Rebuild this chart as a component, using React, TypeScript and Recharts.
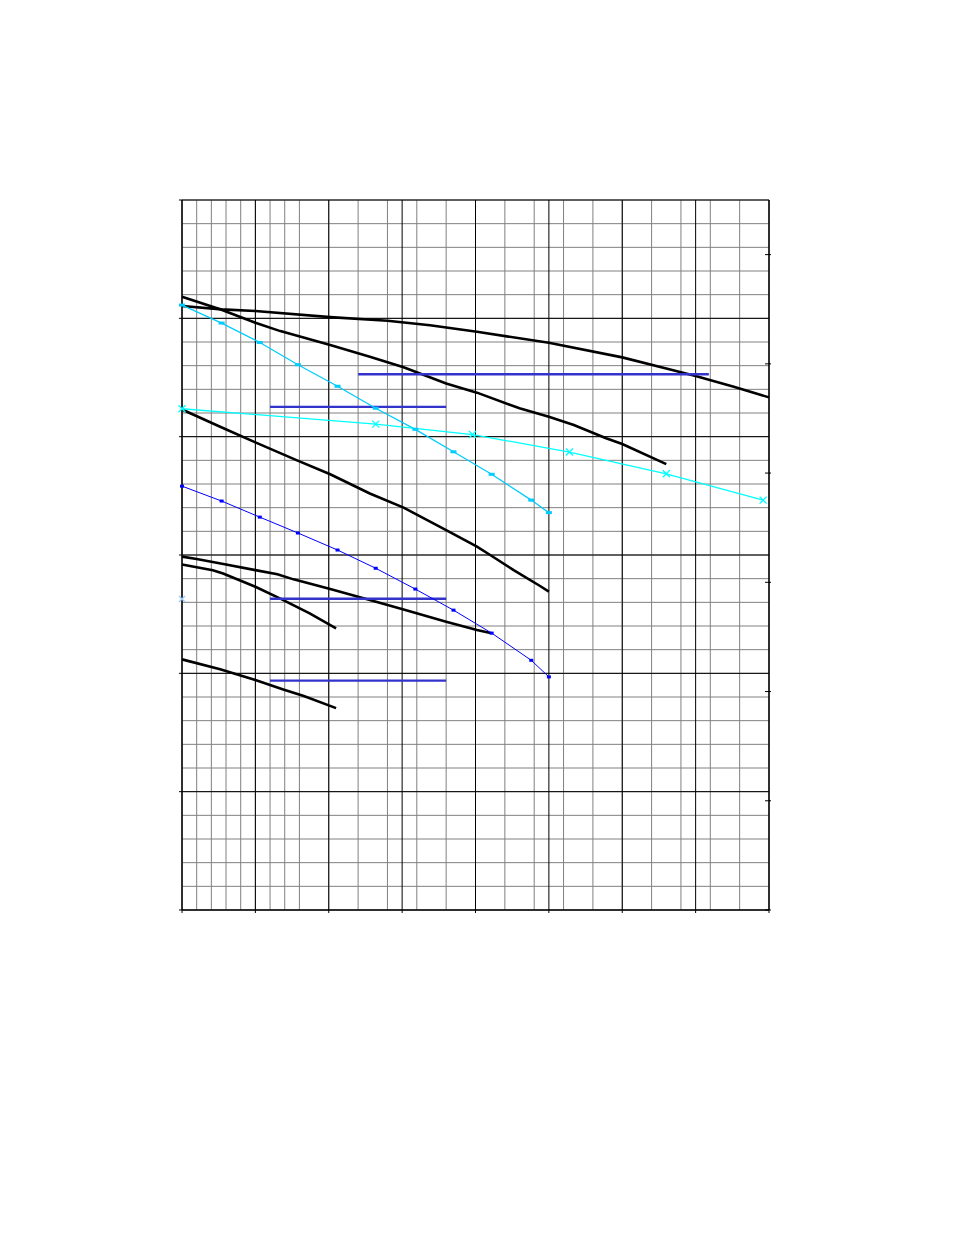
import React from 'react';
import {
  LineChart,
  Line,
  XAxis,
  YAxis,
  CartesianGrid
} from 'recharts';

// Grid ticks (minor every unit, major every 5)
const minorXTicks = Array.from({ length: 41 }, (_, i) => i);
const majorXTicks = [0, 5, 10, 15, 20, 25, 30, 35, 40];
const minorYTicks = Array.from({ length: 31 }, (_, i) => i);
const majorYTicks = [0, 5, 10, 15, 20, 25, 30];
const rightTicks = [0, 1, 2, 3, 4, 5, 6];

// Marker series share the same x positions
const markerX = [0, 2.7, 5.3, 7.9, 10.6, 13.2, 15.9, 18.5, 21.1, 23.8, 25.0];
const cyanSquareY = [25.56, 24.8, 23.98, 23.04, 22.13, 21.2, 20.31, 19.36, 18.41, 17.32, 16.79];
const blueY = [17.91, 17.28, 16.6, 15.93, 15.21, 14.44, 13.56, 12.67, 11.7, 10.55, 9.85];

const cyanCrossX = [0, 13.2, 19.8, 26.4, 33.0, 39.6];
const cyanCrossY = [21.18, 20.53, 20.09, 19.35, 18.43, 17.32];

const loneX = [0];
const loneY = [13.14];

// Black curves
const curveAX = [0, 2.7, 5.0, 10.1, 14.0, 16.9, 20.1, 25.0, 30.0, 33.0, 35.0, 37.6, 40.0];
const curveAY = [25.52, 25.38, 25.31, 25.05, 24.9, 24.71, 24.43, 23.97, 23.35, 22.88, 22.56, 22.11, 21.66];

const curveBX = [0, 2.6, 5.0, 6.7, 10.1, 12.8, 15.1, 18.0, 20.1, 23.0, 25.0, 26.7, 28.9, 30.0, 33.0];
const curveBY = [25.91, 25.38, 24.81, 24.46, 23.87, 23.38, 22.93, 22.25, 21.86, 21.2, 20.84, 20.49, 19.93, 19.69, 18.84];

const curveCX = [0, 2.6, 5.0, 7.8, 10.1, 12.8, 15.1, 18.0, 20.1, 21.0, 22.6, 24.4, 25.0];
const curveCY = [21.15, 20.42, 19.76, 19.01, 18.41, 17.6, 17.0, 16.05, 15.35, 15.0, 14.36, 13.69, 13.45];

const curveDX = [0, 1.0, 3.0, 5.0, 6.5, 7.6, 10.1, 12.8, 15.1, 18.0, 20.1, 21.1];
const curveDY = [14.93, 14.83, 14.6, 14.36, 14.19, 13.97, 13.56, 13.1, 12.7, 12.18, 11.83, 11.69];

const curveEX = [0, 2.1, 2.8, 5.0, 6.7, 8.7, 10.5];
const curveEY = [14.6, 14.36, 14.22, 13.66, 13.16, 12.53, 11.9];

const curveFX = [0, 2.6, 5.0, 6.0, 6.9, 8.3, 10.5];
const curveFY = [10.59, 10.17, 9.72, 9.51, 9.32, 9.04, 8.53];

// Horizontal reference segments: [xStart, xEnd, y]
const segStartX = [12.0, 6.0, 6.0, 6.0];
const segEndX = [35.9, 18.0, 18.0, 18.0];
const segY = [22.64, 21.26, 13.15, 9.69];

const zip = (xs: number[], ys: number[]) => xs.map((x, i) => ({ x, y: ys[i] }));

const SquareDot = (color: string, w: number, h: number) => (props: any) => {
  const { cx, cy, index } = props;
  if (cx == null || cy == null) return <g key={index} />;
  return <rect key={index} x={cx - w / 2} y={cy - h / 2} width={w} height={h} fill={color} />;
};

const CrossDot = (color: string, r: number) => (props: any) => {
  const { cx, cy, index } = props;
  if (cx == null || cy == null) return <g key={index} />;
  return (
    <g key={index} stroke={color} strokeWidth={1.3}>
      <line x1={cx - r} y1={cy - r} x2={cx + r} y2={cy + r} />
      <line x1={cx - r} y1={cy + r} x2={cx + r} y2={cy - r} />
    </g>
  );
};

const RightTick = (props: any) => {
  const { x, y } = props;
  return <line x1={x - 4} y1={y} x2={x + 2} y2={y} stroke="#000" strokeWidth={1} />;
};

export default function App() {
  const blackCurves = [
    zip(curveAX, curveAY),
    zip(curveBX, curveBY),
    zip(curveCX, curveCY),
    zip(curveDX, curveDY),
    zip(curveEX, curveEY),
    zip(curveFX, curveFY)
  ];
  const segments = segY.map((y, i) => [
    { x: segStartX[i], y },
    { x: segEndX[i], y }
  ]);

  return (
    <div style={{ width: 900, height: 1100 }}>
      <LineChart
        width={900}
        height={1100}
        margin={{ top: 192, right: 129, bottom: 188, left: 164 }}
      >
        <XAxis
          xAxisId="minor"
          type="number"
          dataKey="x"
          domain={[0, 40]}
          ticks={minorXTicks}
          allowDataOverflow
          hide
        />
        <YAxis
          yAxisId="minor"
          type="number"
          domain={[0, 30]}
          ticks={minorYTicks}
          allowDataOverflow
          hide
        />
        <XAxis
          xAxisId="major"
          type="number"
          dataKey="x"
          domain={[0, 40]}
          ticks={majorXTicks}
          height={10}
          tickSize={3}
          tickFormatter={() => ''}
          stroke="#000"
          tickLine={{ stroke: '#000' }}
        />
        <YAxis
          yAxisId="left"
          type="number"
          domain={[0, 30]}
          ticks={majorYTicks}
          width={10}
          tickSize={3}
          tickFormatter={() => ''}
          stroke="#000"
          tickLine={{ stroke: '#000' }}
        />
        <YAxis
          yAxisId="right"
          orientation="right"
          type="number"
          domain={[0, 6.5]}
          ticks={rightTicks}
          allowDataOverflow
          width={10}
          tickSize={0}
          tickMargin={0}
          tick={<RightTick />}
          stroke="#000"
          tickLine={false}
        />
        <CartesianGrid xAxisId="minor" yAxisId="minor" stroke="#808080" strokeWidth={1} />
        <CartesianGrid xAxisId="major" yAxisId="left" stroke="#000" strokeWidth={1} />

        {blackCurves.map((d, i) => (
          <Line
            key={`black-${i}`}
            data={d}
            xAxisId="major"
            yAxisId="left"
            dataKey="y"
            type="linear"
            stroke="#000"
            strokeWidth={2.6}
            dot={false}
            isAnimationActive={false}
          />
        ))}

        {segments.map((d, i) => (
          <Line
            key={`seg-${i}`}
            data={d}
            xAxisId="major"
            yAxisId="left"
            dataKey="y"
            type="linear"
            stroke="#3333cc"
            strokeWidth={2.4}
            dot={false}
            isAnimationActive={false}
          />
        ))}

        <Line
          data={zip(markerX, cyanSquareY)}
          xAxisId="major"
          yAxisId="left"
          dataKey="y"
          type="linear"
          stroke="#00ccff"
          strokeWidth={1.3}
          dot={SquareDot('#00ccff', 6, 3)}
          isAnimationActive={false}
        />
        <Line
          data={zip(cyanCrossX, cyanCrossY)}
          xAxisId="major"
          yAxisId="left"
          dataKey="y"
          type="linear"
          stroke="#00ffff"
          strokeWidth={1.3}
          dot={CrossDot('#00ffff', 3.5)}
          isAnimationActive={false}
        />
        <Line
          data={zip(markerX, blueY)}
          xAxisId="major"
          yAxisId="left"
          dataKey="y"
          type="linear"
          stroke="#0000ff"
          strokeWidth={1}
          dot={SquareDot('#0000ff', 4, 3)}
          isAnimationActive={false}
        />
        <Line
          data={zip(loneX, loneY)}
          xAxisId="major"
          yAxisId="left"
          dataKey="y"
          type="linear"
          stroke="none"
          dot={CrossDot('#99ccff', 3)}
          isAnimationActive={false}
        />
      </LineChart>
    </div>
  );
}
